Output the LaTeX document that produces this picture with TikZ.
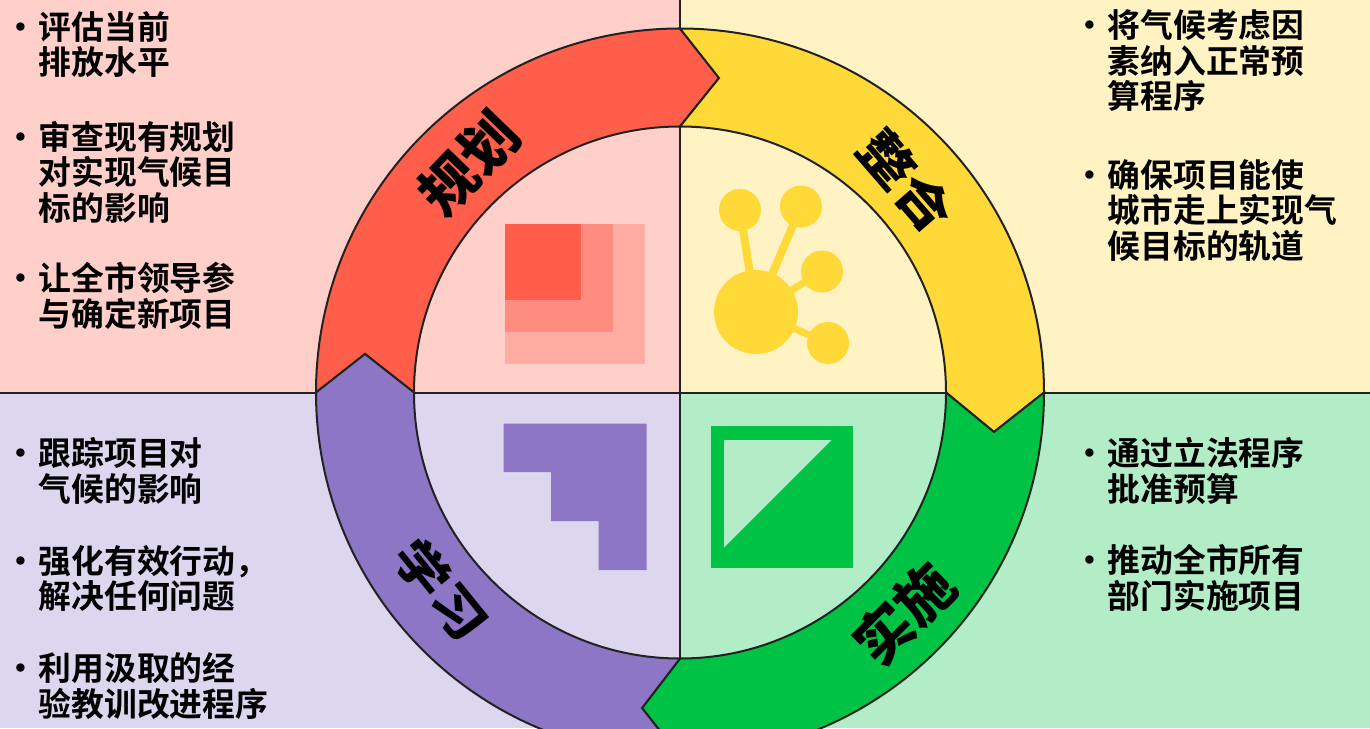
\documentclass[tikz,border=0pt]{standalone}
\usepackage{fontspec}
\setmainfont{Noto Sans CJK SC Bold}
\newfontfamily\cjkb{Noto Sans CJK SC Bold}
\newfontfamily\cjkh{Noto Sans CJK SC Black}
\definecolor{redS}{HTML}{FF5F4A}
\definecolor{redP}{HTML}{FFD0CA}
\definecolor{yelS}{HTML}{FFD938}
\definecolor{yelP}{HTML}{FFF3C4}
\definecolor{grnS}{HTML}{00C244}
\definecolor{grnP}{HTML}{B3EDC7}
\definecolor{purS}{HTML}{8C76C5}
\definecolor{purP}{HTML}{DCD7EF}
\definecolor{lineC}{HTML}{222222}
\tikzset{
  seg/.style={draw=lineC,line width=2pt,line join=miter},
  rule/.style={draw=lineC,line width=2pt},
  para/.style={anchor=west,align=left,inner sep=0pt,font=\fontsize{32.8}{35.5}\cjkb},
  tag/.style={inner sep=0pt,font=\fontsize{57}{57}\cjkh},
}
\newcommand{\blt}{\llap{\char"2022\hspace{1pt}}}
\begin{document}
\begin{tikzpicture}[x=1pt,y=-1pt]
\useasboundingbox (0,0) rectangle (1370,728);
\fill[redP] (0,0) rectangle (680,392);
\fill[yelP] (680,0) rectangle (1370,392);
\fill[purP] (0,392) rectangle (680,728);
\fill[grnP] (680,392) rectangle (1370,728);
\coordinate (tt) at (680,0);
\coordinate (ll) at (0,392.5);
\coordinate (rr) at (1370,392.5);
\coordinate (bb) at (680,728);
\draw[rule] (tt) -- (bb);
\draw[rule] (ll) -- (rr);
% icons
\fill[redS,opacity=.3] (505,224) rectangle (645,364);
\fill[redS,opacity=.4] (505,224) rectangle (613,332);
\fill[redS] (505,224) rectangle (581,300);
\begin{scope}[yelS,line width=8pt]
\fill (756,312) circle (42);
\fill (740,210) circle (21);
\fill (801,206.5) circle (21);
\fill (822,271.5) circle (21);
\fill (828,343) circle (21);
\draw (756,312) -- (740,210);
\draw (756,312) -- (801,206.5);
\draw[line width=7pt] (756,312) -- (822,271.5);
\draw[line width=7pt] (756,312) -- (828,343);
\end{scope}
\fill[purS] (503.5,423.5) -- (646.5,423.5) -- (646.5,570) -- (598.5,570) -- (598.5,521) -- (551,521) -- (551,472) -- (503.5,472) -- cycle;
\fill[grnS] (710.5,425.5) rectangle (852.5,567.5);
\fill[grnP] (724,440) -- (831.5,440) -- (724,547.5) -- cycle;
% ring
\draw[seg,fill=redS] (316,392.5) arc[start angle=180,end angle=270,radius=364]
  -- (719,78) -- (680,126.5) arc[start angle=270,end angle=180,radius=266] -- (365,354) -- cycle;
\draw[seg,fill=yelS] (680,28.5) arc[start angle=270,end angle=360,radius=364]
  -- (994,432) -- (946,392.5) arc[start angle=360,end angle=270,radius=266] -- (719,78) -- cycle;
\draw[seg,fill=grnS] (1044,392.5) arc[start angle=0,end angle=90,radius=364]
  -- (642,708) -- (680,658.5) arc[start angle=90,end angle=0,radius=266] -- (994,432) -- cycle;
\draw[seg,fill=purS] (680,658.5) arc[start angle=90,end angle=180,radius=266]
  -- (365,354) -- (316,392.5) arc[start angle=180,end angle=90,radius=364] -- (642,708) -- cycle;
% ring labels
\node[tag,rotate=46] (plan) at (469,163) {规划};
\node[tag,rotate=-49,yscale=.88] (integ) at (906,181) {整合};
\node[tag,rotate=45] (impl) at (904,614) {实施};
\node[tag,rotate=-51,yscale=.85] (learn) at (441,590) {学习};
% text
\node[para] (a1) at (38.5,44.5) {\blt 评估当前\\排放水平};
\node[para] (a2) at (38.5,172) {\blt 审查现有规划\\对实现气候目\\标的影响};
\node[para] (a3) at (38.5,296) {\blt 让全市领导参\\与确定新项目};
\node[para] (b1) at (1107.5,61) {\blt 将气候考虑因\\素纳入正常预\\算程序};
\node[para] (b2) at (1107.5,210.5) {\blt 确保项目能使\\城市走上实现气\\候目标的轨道};
\node[para] (c1) at (38.5,471) {\blt 跟踪项目对\\气候的影响};
\node[para] (c2) at (38.5,578.5) {\blt 强化有效行动，\\解决任何问题};
\node[para] (c3) at (38.5,686) {\blt 利用汲取的经\\验教训改进程序};
\node[para] (d1) at (1107.5,471) {\blt 通过立法程序\\批准预算};
\node[para] (d2) at (1107.5,578) {\blt 推动全市所有\\部门实施项目};
\end{tikzpicture}
\end{document}
